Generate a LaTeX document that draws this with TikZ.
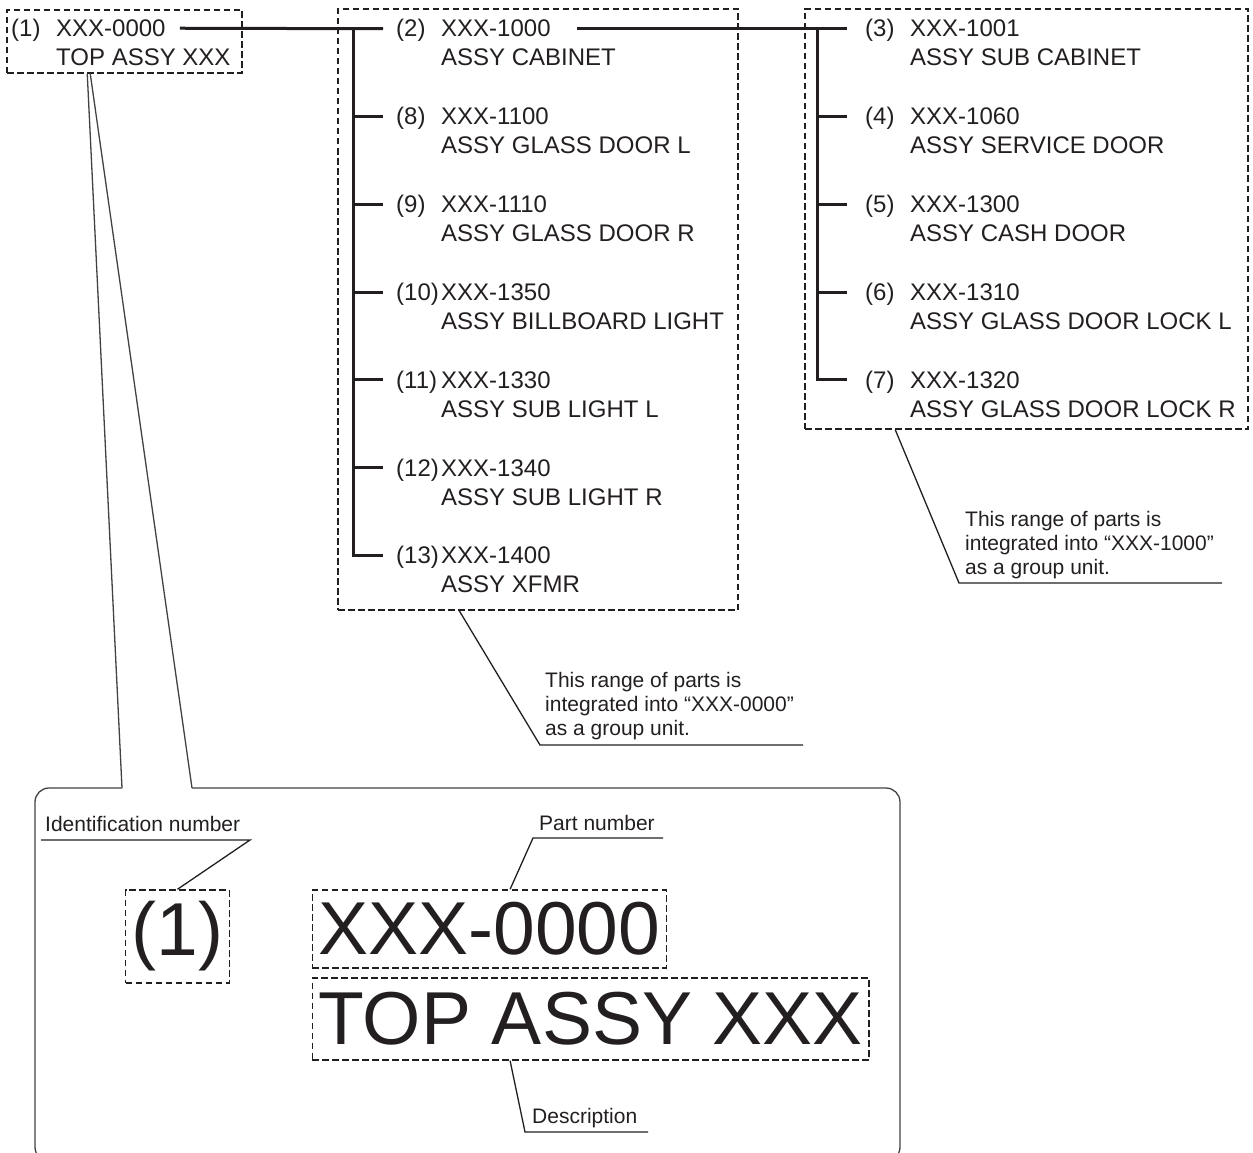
\documentclass[tikz,border=0pt]{standalone}
\usepackage{fontspec}
\setmainfont{Liberation Sans}
\usetikzlibrary{calc}
\definecolor{ink}{HTML}{231F20}

\begin{document}
\begin{tikzpicture}[x=1pt,y=-1pt,
    grpbox/.style={draw=ink,line width=1.5pt,dash pattern=on 6.5pt off 3.5pt,inner sep=0pt},
    idtext/.style={anchor=base west,inner sep=0pt,text=ink,font=\fontsize{24}{29}\selectfont},
    note/.style={anchor=base west,inner sep=0pt,text=ink,align=left,font=\fontsize{21}{24}\selectfont},
    bigbox/.style={draw=ink,line width=1.5pt,dash pattern=on 6.5pt off 3.5pt,inner xsep=6pt,inner ysep=0pt,text=ink,font=\fontsize{75}{90}\selectfont},
    tree/.style={draw=ink,line width=3pt},
    leader/.style={draw=ink,line width=1.3pt},
    frame/.style={draw=ink!85,line width=1.3pt,rounded corners=14pt}]
    \useasboundingbox (0,0) rectangle (1253,1153);
    \clip (0,0) rectangle (1253,1153);

    % group boxes
    \node[grpbox,minimum width=235pt,minimum height=63pt] (grp1) at (124.5,41.5) {};
    \node[grpbox,minimum width=400pt,minimum height=601pt] (grp2) at (538,309.5) {};
    \node[grpbox,minimum width=443pt,minimum height=420pt] (grp3) at (1026.5,219) {};

    % top assembly
    \node[idtext] (id1) at (11,36.5) {(1)};
    \node[idtext] (pn1) at (56,36.5) {XXX-0000};
    \node[idtext] (ds1) at ([yshift=-29.5pt]pn1.base west) {TOP ASSY XXX};

    % first level
    \node[idtext] (id2) at (396,37) {(2)};
    \node[idtext] (pn2) at (441,37) {XXX-1000};
    \node[idtext] (ds2) at ([yshift=-29pt]pn2.base west) {ASSY CABINET};
    \node[idtext] (id8) at (396,124.8) {(8)};
    \node[idtext] (pn8) at (441,124.8) {XXX-1100};
    \node[idtext] (ds8) at ([yshift=-29pt]pn8.base west) {ASSY GLASS DOOR L};
    \node[idtext] (id9) at (396,212.6) {(9)};
    \node[idtext] (pn9) at (441,212.6) {XXX-1110};
    \node[idtext] (ds9) at ([yshift=-29pt]pn9.base west) {ASSY GLASS DOOR R};
    \node[idtext] (id10) at (396,300.4) {(10)};
    \node[idtext] (pn10) at (441,300.4) {XXX-1350};
    \node[idtext] (ds10) at ([yshift=-29pt]pn10.base west) {ASSY BILLBOARD LIGHT};
    \node[idtext] (id11) at (396,388.2) {(11)};
    \node[idtext] (pn11) at (441,388.2) {XXX-1330};
    \node[idtext] (ds11) at ([yshift=-29pt]pn11.base west) {ASSY SUB LIGHT L};
    \node[idtext] (id12) at (396,476) {(12)};
    \node[idtext] (pn12) at (441,476) {XXX-1340};
    \node[idtext] (ds12) at ([yshift=-29pt]pn12.base west) {ASSY SUB LIGHT R};
    \node[idtext] (id13) at (396,563.8) {(13)};
    \node[idtext] (pn13) at (441,563.8) {XXX-1400};
    \node[idtext] (ds13) at ([yshift=-29pt]pn13.base west) {ASSY XFMR};

    % second level
    \node[idtext] (id3) at (865,37) {(3)};
    \node[idtext] (pn3) at (910,37) {XXX-1001};
    \node[idtext] (ds3) at ([yshift=-29pt]pn3.base west) {ASSY SUB CABINET};
    \node[idtext] (id4) at (865,124.8) {(4)};
    \node[idtext] (pn4) at (910,124.8) {XXX-1060};
    \node[idtext] (ds4) at ([yshift=-29pt]pn4.base west) {ASSY SERVICE DOOR};
    \node[idtext] (id5) at (865,212.6) {(5)};
    \node[idtext] (pn5) at (910,212.6) {XXX-1300};
    \node[idtext] (ds5) at ([yshift=-29pt]pn5.base west) {ASSY CASH DOOR};
    \node[idtext] (id6) at (865,300.4) {(6)};
    \node[idtext] (pn6) at (910,300.4) {XXX-1310};
    \node[idtext] (ds6) at ([yshift=-29pt]pn6.base west) {ASSY GLASS DOOR LOCK L};
    \node[idtext] (id7) at (865,388.2) {(7)};
    \node[idtext] (pn7) at (910,388.2) {XXX-1320};
    \node[idtext] (ds7) at ([yshift=-29pt]pn7.base west) {ASSY GLASS DOOR LOCK R};

    % tree lines
    \draw[tree] ([xshift=14pt]pn1.east) -- ([xshift=-58pt]pn2.west);
    \draw[tree] ([xshift=-88pt]pn2.west) |- ([xshift=-58pt]pn13.west);
    \draw[tree] ([xshift=-88pt]pn8.west) -- ([xshift=-58pt]pn8.west)
        ([xshift=-88pt]pn9.west) -- ([xshift=-58pt]pn9.west)
        ([xshift=-88pt]pn10.west) -- ([xshift=-58pt]pn10.west)
        ([xshift=-88pt]pn11.west) -- ([xshift=-58pt]pn11.west)
        ([xshift=-88pt]pn12.west) -- ([xshift=-58pt]pn12.west);
    \draw[tree] ([xshift=26pt]pn2.east) -- ([xshift=-63pt]pn3.west);
    \draw[tree] ([xshift=-93pt]pn3.west) |- ([xshift=-63pt]pn7.west);
    \draw[tree] ([xshift=-93pt]pn4.west) -- ([xshift=-63pt]pn4.west)
        ([xshift=-93pt]pn5.west) -- ([xshift=-63pt]pn5.west)
        ([xshift=-93pt]pn6.west) -- ([xshift=-63pt]pn6.west);

    % group notes (base = last line)
    \node[note] (note2) at (545,735) {This range of parts is\\integrated into “XXX-0000”\\as a group unit.};
    \coordinate (bend2) at (540,745);
    \coordinate (tail2) at (803,745);
    \draw[leader] ($(grp2.south west)+(122,0)$) -- (bend2) -- (tail2);
    \node[note] (note3) at (965,574) {This range of parts is\\integrated into “XXX-1000”\\as a group unit.};
    \coordinate (bend3) at (959,583);
    \coordinate (tail3) at (1222,583);
    \draw[leader] ($(grp3.south west)+(91,0)$) -- (bend3) -- (tail3);

    % enlarged view
    \coordinate (fr1) at (122,788);
    \coordinate (fr2) at (192,788);
    \draw[frame] (fr1) -- (35,788) -- (35,1161) -- (900,1161) -- (900,788) -- (fr2);
    \draw[leader,draw=ink!85] ($(grp1.south west)+(81,0)$) -- (fr1);
    \draw[leader,draw=ink!85] ($(grp1.south west)+(84,0)$) -- (fr2);

    \node[note] (idlbl) at (45,831) {Identification number};
    \node[bigbox,minimum height=93pt] (idbox) at (177.5,936.5) {(1)};
    \draw[leader] ($(idlbl.base west)+(-4,9)$) -- ($(idlbl.base west)+(205,9)$) -- (idbox.north);

    \node[bigbox,minimum height=78pt,anchor=west] (pnbox) at (311.6,929) {XXX-0000};
    \node[bigbox,minimum height=82pt,anchor=west] (dsbox) at (311.6,1019) {TOP ASSY XXX};
    \node[note] (pnlbl) at (539,830) {Part number};
    \draw[leader] ($(pnbox.north west)+(198.5,0)$) -- ($(pnlbl.base west)+(-6,8)$) -- ($(pnlbl.base west)+(124,8)$);
    \node[note] (dslbl) at (532,1123) {Description};
    \draw[leader] ($(dsbox.south west)+(198.5,0)$) -- ($(dslbl.base west)+(-7,9)$) -- ($(dslbl.base west)+(116,9)$);
\end{tikzpicture}
\end{document}
